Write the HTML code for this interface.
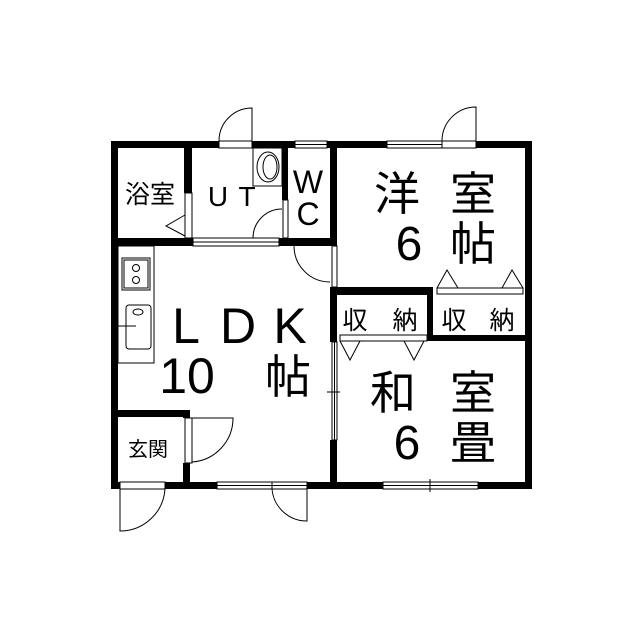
<!DOCTYPE html>
<html><head><meta charset="utf-8"><style>html,body{margin:0;padding:0;background:#fff}svg{display:block}text{font-family:"Liberation Sans","Noto Sans CJK JP",sans-serif;fill:#000}</style></head><body>
<svg width="640" height="640" viewBox="0 0 640 640" xmlns="http://www.w3.org/2000/svg">
<g fill="#000">
<rect x="111" y="141" width="421" height="7"/>
<rect x="111" y="482" width="421" height="7"/>
<rect x="111" y="141" width="7" height="348"/>
<rect x="525" y="141" width="7" height="348"/>
<rect x="184" y="141" width="8" height="52"/>
<rect x="111" y="238" width="82" height="8"/>
<rect x="279" y="238" width="58" height="8"/>
<rect x="282" y="141" width="6" height="59"/>
<rect x="330" y="141" width="7" height="105"/>
<rect x="330" y="287" width="7" height="55"/>
<rect x="330" y="287" width="97" height="8"/>
<rect x="427" y="287" width="6" height="54"/>
<rect x="433" y="335" width="99" height="6"/>
<rect x="330" y="440" width="7" height="49"/>
<rect x="111" y="410" width="79" height="7"/>
<rect x="183" y="410" width="7" height="8"/>
<rect x="183" y="463" width="7" height="26"/>
</g>
<g fill="#fff" stroke="#000" stroke-width="1">
<rect x="219" y="141" width="33" height="7"/>
<rect x="295" y="141" width="32" height="7"/>
<line x1="295" y1="144.5" x2="327" y2="144.5"/>
<rect x="387" y="141" width="55" height="7"/>
<line x1="387" y1="144.5" x2="442" y2="144.5"/>
<rect x="442" y="141" width="34" height="7"/>
<rect x="120" y="482" width="45" height="7"/>
<rect x="217" y="482" width="90" height="7"/>
<line x1="217" y1="485.5" x2="307" y2="485.5"/>
<line x1="272" y1="482" x2="272" y2="489"/>
<rect x="383" y="482" width="95" height="7"/>
<line x1="383" y1="485.5" x2="478" y2="485.5"/>
<line x1="430" y1="479" x2="430" y2="492"/>
<rect x="193" y="238" width="86" height="8"/>
<line x1="193" y1="242" x2="279" y2="242"/>
<rect x="185" y="193" width="7" height="45"/>
<rect x="283" y="200" width="5" height="38"/>
<rect x="332" y="246" width="5" height="41"/>
<rect x="332" y="342" width="5" height="98"/>
<line x1="334.5" y1="342" x2="334.5" y2="440"/>
<line x1="327" y1="392" x2="340" y2="392"/>
<rect x="185" y="418" width="7" height="45"/>
<rect x="437" y="288" width="86" height="6"/>
<rect x="340" y="335" width="87" height="6"/>
<rect x="118" y="246" width="36" height="117"/>
<rect x="122" y="258" width="28" height="32"/>
<rect x="124" y="260" width="24" height="28"/>
<rect x="126" y="305" width="25" height="44" rx="3"/>
<rect x="253" y="148" width="29" height="38"/>
<ellipse cx="268" cy="167" rx="11" ry="15"/>
<ellipse cx="270" cy="167" rx="7" ry="12"/>
</g>
<g fill="none" stroke="#000" stroke-width="1">
<circle cx="136" cy="268" r="3.5"/><circle cx="136" cy="280" r="3.5"/>
<ellipse cx="138" cy="312" rx="5" ry="3"/>
<line x1="118" y1="326" x2="136" y2="326"/>
<path d="M252 141 V108 A33 33 0 0 0 219 141"/>
<path d="M476 141 V107 A34 34 0 0 0 442 141"/>
<path d="M253 238 A29 29 0 0 1 282 209"/>
<path d="M294 246 A36 36 0 0 0 330 282"/>
<path d="M192 418 H233 A44 44 0 0 1 192 462"/>
<path d="M120 489 V531 A45 45 0 0 0 165 489"/>
<path d="M307 489 V521 A35 35 0 0 1 272 489"/>
<path d="M185 215 L166 226 L185 236"/>
<path d="M437 288 L447 270 L458 288 M502 288 L512 270 L523 288"/>
<path d="M340 341 L350 360 L360 341 M404 341 L414 360 L424 341"/>
</g>
<g text-anchor="middle">
<text x="150" y="203" font-size="25">浴室</text>
<text x="218" y="206" font-size="28">U</text>
<text x="247" y="206" font-size="28">T</text>
<text x="308" y="193" font-size="32">W</text>
<text x="308" y="225" font-size="32">C</text>
<text x="397" y="210" font-size="46">洋</text>
<text x="473" y="210" font-size="46">室</text>
<text x="409" y="260" font-size="48">6</text>
<text x="473" y="260" font-size="46">帖</text>
<text x="186" y="343" font-size="50">L</text>
<text x="238" y="343" font-size="50">D</text>
<text x="290" y="343" font-size="50">K</text>
<text x="187" y="393" font-size="50">10</text>
<text x="288" y="393" font-size="46">帖</text>
<text x="393" y="409" font-size="46">和</text>
<text x="473" y="409" font-size="46">室</text>
<text x="407" y="459" font-size="48">6</text>
<text x="473" y="459" font-size="46">畳</text>
<text x="355" y="329" font-size="25">収</text>
<text x="405" y="329" font-size="25">納</text>
<text x="454" y="329" font-size="25">収</text>
<text x="502" y="329" font-size="25">納</text>
<text x="148" y="456" font-size="20">玄関</text>
</g>
</svg>
</body></html>
